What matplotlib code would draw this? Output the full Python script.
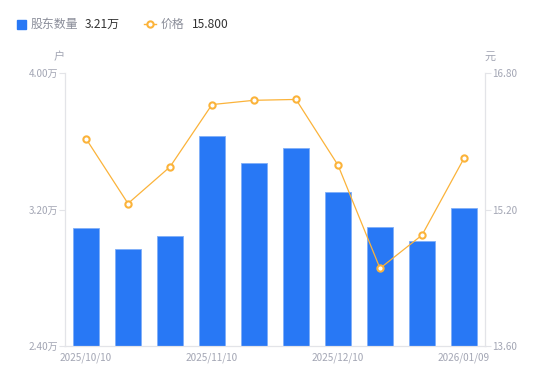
import matplotlib
matplotlib.use("Agg")
import matplotlib.pyplot as plt
from matplotlib.lines import Line2D
from matplotlib.patches import Rectangle
import numpy as np

plt.rcParams["font.family"] = ["Noto Sans CJK SC", "DejaVu Sans"]

# data
dates = ["2025/10/10", "2025/10/20", "2025/10/31", "2025/11/10", "2025/11/20",
         "2025/11/28", "2025/12/10", "2025/12/19", "2025/12/31", "2026/01/09"]
holders = [3.09, 2.97, 3.045, 3.63, 3.47, 3.56, 3.30, 3.10, 3.015, 3.21]  # 万户
price = [16.03, 15.27, 15.70, 16.43, 16.48, 16.49, 15.72, 14.51, 14.90, 15.80]  # 元
shown_ticks = [0, 3, 6, 9]

BLUE = "#2878F5"
ORANGE = "#FBB33A"
GREY = "#A3A6B4"
AXIS = "#E3E4E8"

fig = plt.figure(figsize=(5.5, 3.81), dpi=100)
ax = fig.add_axes([65 / 550, 35 / 381, 420 / 550, 273 / 381])
ax2 = ax.twinx()

x = np.arange(len(dates))
ax.bar(x, holders, width=0.6, color=BLUE, edgecolor="#7FAEF8", linewidth=0.6, zorder=2)
ax.set_xlim(-0.5, len(dates) - 0.5)
ax.set_ylim(2.40, 4.00)
ax.set_yticks([2.40, 3.20, 4.00])
ax.set_yticklabels([f"{v:.2f}万" for v in [2.40, 3.20, 4.00]])
ax.set_xticks([x[i] for i in shown_ticks])
ax.set_xticklabels([dates[i] for i in shown_ticks])

ax2.plot(x, price, color=ORANGE, linewidth=0.9, marker="o", markersize=4.5,
         markerfacecolor="white", markeredgecolor=ORANGE, markeredgewidth=1.5, zorder=3)
ax2.set_ylim(13.60, 16.80)
ax2.set_yticks([13.60, 15.20, 16.80])
ax2.set_yticklabels([f"{v:.2f}" for v in [13.60, 15.20, 16.80]])

for a in (ax, ax2):
    for s in a.spines.values():
        s.set_color(AXIS)
    a.spines["top"].set_visible(False)
    a.tick_params(colors=AXIS, labelcolor=GREY, labelsize=7.2, length=4, width=0.8)
ax.tick_params(axis="x", length=0, pad=5)
ax.tick_params(axis="y", pad=1)
ax2.tick_params(axis="y", pad=1)

# axis units
fig.text(59 / 550, 1 - 57 / 381, "户", color=GREY, fontsize=8, ha="center", va="center")
fig.text(490 / 550, 1 - 57 / 381, "元", color=GREY, fontsize=8, ha="center", va="center")

# custom legend row
ly = 1 - 24 / 381
fig.add_artist(Rectangle((16.5 / 550, ly - 4.5 / 381), 9 / 550, 9 / 381,
                         color=BLUE, transform=fig.transFigure))
fig.text(31 / 550, ly, "股东数量", color="#8A8D99", fontsize=8.6, va="center")
fig.text(85 / 550, ly, "3.21万", color="#333333", fontsize=8.6, va="center")
fig.add_artist(Line2D([144 / 550, 156 / 550], [ly, ly], color=ORANGE, linewidth=1,
                      transform=fig.transFigure))
fig.add_artist(Line2D([150 / 550], [ly], marker="o", markersize=4.5, markerfacecolor="white",
                      markeredgecolor=ORANGE, markeredgewidth=1.5, transform=fig.transFigure))
fig.text(161 / 550, ly, "价格", color="#8A8D99", fontsize=8.6, va="center")
fig.text(192 / 550, ly, "15.800", color="#333333", fontsize=8.6, va="center")

fig.savefig("out.png", dpi=100)
